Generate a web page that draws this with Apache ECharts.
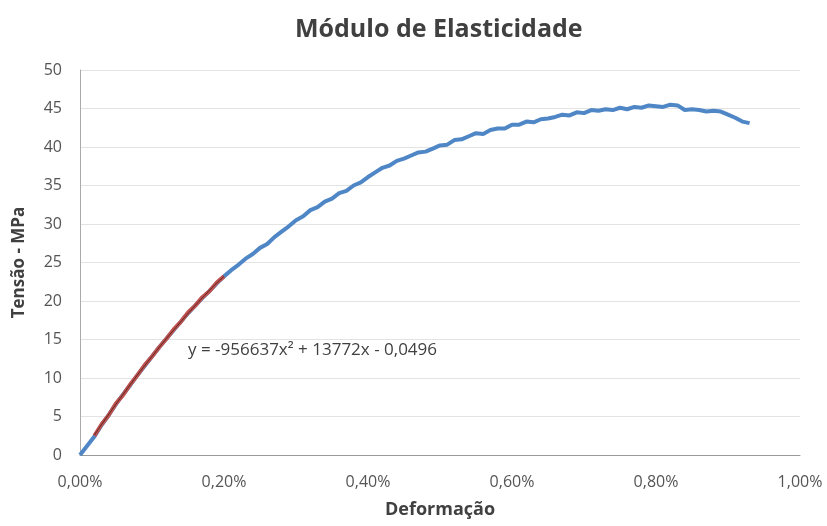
<!DOCTYPE html>
<html>
<head>
<meta charset="utf-8">
<script src="https://cdn.jsdelivr.net/npm/echarts@6/dist/echarts.min.js"></script>
<style>
  html, body { margin: 0; padding: 0; background: #fff; }
  #chart { width: 827px; height: 526px; }
</style>
</head>
<body>
<div id="chart"></div>
<script>
// deformação (fraction, shown as %) / tensão (MPa)
var blueStrain = [0, 0.0001, 0.0002, 0.0003, 0.0004, 0.0005, 0.0006, 0.0007, 0.0008, 0.0009,
  0.0010, 0.0011, 0.0012, 0.0013, 0.0014, 0.0015, 0.0016, 0.0017, 0.0018, 0.0019,
  0.0020, 0.0021, 0.0022, 0.0023, 0.0024, 0.0025, 0.0026, 0.0027, 0.0028, 0.0029,
  0.0030, 0.0031, 0.0032, 0.0033, 0.0034, 0.0035, 0.0036, 0.0037, 0.0038, 0.0039,
  0.0040, 0.0041, 0.0042, 0.0043, 0.0044, 0.0045, 0.0046, 0.0047, 0.0048, 0.0049,
  0.0050, 0.0051, 0.0052, 0.0053, 0.0054, 0.0055, 0.0056, 0.0057, 0.0058, 0.0059,
  0.0060, 0.0061, 0.0062, 0.0063, 0.0064, 0.0065, 0.0066, 0.0067, 0.0068, 0.0069,
  0.0070, 0.0071, 0.0072, 0.0073, 0.0074, 0.0075, 0.0076, 0.0077, 0.0078, 0.0079,
  0.0080, 0.0081, 0.0082, 0.0083, 0.0084, 0.0085, 0.0086, 0.0087, 0.0088, 0.0089,
  0.0090, 0.0091, 0.0092, 0.0093];
var blueStress = [0, 1.2, 2.4, 3.9, 5.2, 6.6, 7.9, 9.1, 10.4, 11.6,
  12.8, 14.0, 15.1, 16.2, 17.3, 18.4, 19.4, 20.4, 21.3, 22.3,
  23.2, 24.0, 24.7, 25.5, 26.1, 26.9, 27.4, 28.3, 29.0, 29.7,
  30.5, 31.0, 31.8, 32.2, 32.9, 33.3, 34.0, 34.3, 35.0, 35.4,
  36.1, 36.7, 37.3, 37.6, 38.2, 38.5, 38.9, 39.3, 39.4, 39.8,
  40.2, 40.3, 40.9, 41.0, 41.4, 41.8, 41.7, 42.2, 42.4, 42.4,
  42.9, 42.9, 43.3, 43.2, 43.6, 43.7, 43.9, 44.2, 44.1, 44.5,
  44.4, 44.8, 44.7, 44.9, 44.8, 45.1, 44.9, 45.2, 45.1, 45.4,
  45.3, 45.2, 45.5, 45.4, 44.8, 44.9, 44.8, 44.6, 44.7, 44.6,
  44.2, 43.8, 43.3, 43.1];

// trecho linear (vermelho)
var redStrain = [0.0002, 0.0003, 0.0004, 0.0005, 0.0006, 0.0007, 0.0008, 0.0009, 0.0010,
  0.0011, 0.0012, 0.0013, 0.0014, 0.0015, 0.0016, 0.0017, 0.0018, 0.0019, 0.0020];
var redStress = [2.5, 4.0, 5.2, 6.7, 7.8, 9.2, 10.4, 11.7, 12.8,
  14.0, 15.1, 16.3, 17.3, 18.5, 19.4, 20.5, 21.3, 22.4, 23.2];

// linha de tendência
var trendStrain = [0.0002, 0.0006, 0.0010, 0.0014, 0.0018, 0.0020];
var trendStress = [2.6, 7.9, 12.8, 17.3, 21.4, 23.2];

var equation = 'y = -956637x² + 13772x - 0,0496';

function pairs(xs, ys) {
  return xs.map(function (x, i) { return [x, ys[i]]; });
}

var chart = echarts.init(document.getElementById('chart'), null, { renderer: 'canvas' });
chart.setOption({
  animation: false,
  backgroundColor: '#fff',
  title: {
    text: 'Módulo de Elasticidade',
    left: 290,
    top: 12,
    textStyle: { fontFamily: 'Open Sans', fontSize: 25, fontWeight: 'bold', color: '#404040' }
  },
  grid: { left: 80, right: 27, top: 70, bottom: 71 },
  xAxis: {
    type: 'value',
    min: 0,
    max: 0.01,
    interval: 0.002,
    name: 'Deformação',
    nameLocation: 'middle',
    nameGap: 46,
    nameTextStyle: { fontFamily: 'Open Sans', fontSize: 18, fontWeight: 'bold', color: '#404040' },
    axisLine: { lineStyle: { color: '#999' } },
    axisTick: { show: false },
    splitLine: { show: false },
    axisLabel: {
      fontFamily: 'Open Sans', fontSize: 16, color: '#555', margin: 19,
      formatter: function (v) { return (v * 100).toFixed(2).replace('.', ',') + '%'; }
    }
  },
  yAxis: {
    type: 'value',
    min: 0,
    max: 50,
    interval: 5,
    name: 'Tensão - MPa',
    nameLocation: 'middle',
    nameGap: 52,
    nameTextStyle: { fontFamily: 'Open Sans', fontSize: 17, fontWeight: 'bold', color: '#404040' },
    axisLine: { show: true, lineStyle: { color: '#aaa' } },
    axisTick: { show: false },
    splitLine: { lineStyle: { color: '#e3e3e3' } },
    axisLabel: { fontFamily: 'Open Sans', fontSize: 16, color: '#555', margin: 18 }
  },
  graphic: [{
    type: 'text',
    left: 188,
    top: 342,
    style: { text: equation, fontFamily: 'Open Sans', fontSize: 17, fill: '#404040' }
  }],
  series: [
    {
      type: 'line',
      data: pairs(blueStrain, blueStress),
      showSymbol: false,
      lineStyle: { color: '#4f86c6', width: 4 }
    },
    {
      type: 'line',
      data: pairs(redStrain, redStress),
      showSymbol: false,
      lineStyle: { color: '#c0504d', width: 4 }
    },
    {
      type: 'line',
      data: pairs(trendStrain, trendStress),
      showSymbol: false,
      smooth: true,
      lineStyle: { color: '#5a2a22', width: 1 }
    }
  ]
});
</script>
</body>
</html>
